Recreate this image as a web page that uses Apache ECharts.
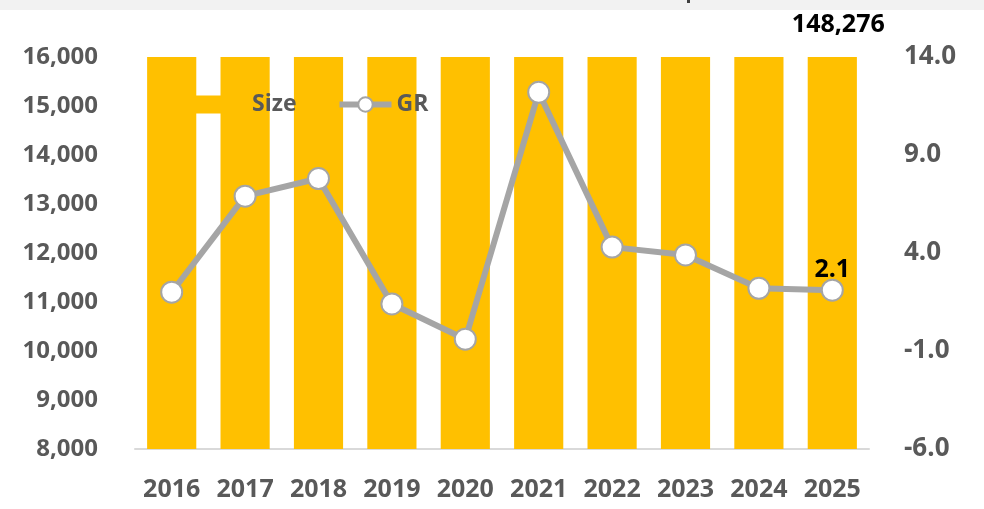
<!DOCTYPE html>
<html>
<head>
<meta charset="utf-8">
<script src="https://cdn.jsdelivr.net/npm/echarts@6/dist/echarts.min.js"></script>
<style>
html, body { margin: 0; padding: 0; background: #fff; }
#main { width: 984px; height: 509px; }
</style>
</head>
<body>
<div id="main"></div>
<script>
var years = ['2016', '2017', '2018', '2019', '2020', '2021', '2022', '2023', '2024', '2025'];
// 规模（柱子都超出了16,000的轴上限，只有2025年标了数值）
var sizeValues = [100417, 107345, 115718, 117338, 116869, 131127, 136766, 142100, 145226, 148276];
// 增长率
var grValues = [2.0, 6.9, 7.8, 1.4, -0.4, 12.2, 4.3, 3.9, 2.2, 2.1];
var leftTicks = [8000, 16000, 1000];
var rightTicks = [-6, 14, 5];

var fontName = '"Open Sans", "Noto Sans", sans-serif';
var lastIdx = years.length - 1;

var myChart = echarts.init(document.getElementById('main'));

var barData = sizeValues.map(function (v, i) {
	if (i !== lastIdx) return v;
	return {
		value: v,
		label: {
			show: true,
			position: 'top',
			distance: 12,
			offset: [6, -8],
			formatter: function (p) { return p.value.toLocaleString('en-US'); },
			color: '#000',
			fontSize: 25,
			fontWeight: 'bold',
			fontFamily: fontName
		}
	};
});

var lineData = grValues.map(function (v, i) {
	if (i !== lastIdx) return v;
	return {
		value: v,
		label: {
			show: true,
			position: 'top',
			distance: 0,
			offset: [0, 4],
			formatter: function (p) { return p.value.toFixed(1); },
			color: '#000',
			fontSize: 25,
			fontWeight: 'bold',
			fontFamily: fontName
		}
	};
});

var option = {
	animation: false,
	backgroundColor: '#fff',
	graphic: [
		{
			type: 'rect',
			left: 0, top: 0,
			shape: { width: 984, height: 10 },
			style: { fill: '#F2F2F2' }
		},
		{
			type: 'rect',
			left: 687, top: 0,
			shape: { width: 3, height: 3 },
			style: { fill: '#404040' }
		}
	],
	grid: {
		left: 135,
		right: 115,
		top: 57,
		bottom: 60
	},
	legend: {
		left: 190,
		top: 88,
		itemGap: 40,
		itemWidth: 52,
		itemHeight: 18,
		textStyle: {
			color: '#595959',
			fontSize: 23,
			fontWeight: 'bold',
			fontFamily: fontName
		},
		data: [
			{ name: 'Size', icon: 'rect', itemStyle: { color: '#FFC000' } },
			{
				name: 'GR',
				itemStyle: { color: '#fff', borderColor: '#A5A5A5', borderWidth: 2 },
				lineStyle: { color: '#A5A5A5', width: 6 }
			}
		]
	},
	xAxis: {
		type: 'category',
		data: years,
		axisTick: { show: false },
		axisLine: { onZero: false, lineStyle: { color: '#D9D9D9', width: 2 } },
		axisLabel: {
			interval: 0,
			color: '#595959',
			fontSize: 25,
			fontWeight: 'bold',
			fontFamily: fontName,
			margin: 28
		}
	},
	yAxis: [
		{
			type: 'value',
			min: leftTicks[0],
			max: leftTicks[1],
			interval: leftTicks[2],
			splitLine: { show: false },
			axisLine: { show: false },
			axisTick: { show: false },
			axisLabel: {
				color: '#595959',
				fontSize: 24,
				fontWeight: 'bold',
				fontFamily: fontName,
				margin: 37,
				formatter: function (v) { return v.toLocaleString('en-US'); }
			}
		},
		{
			type: 'value',
			min: rightTicks[0],
			max: rightTicks[1],
			interval: rightTicks[2],
			splitLine: { show: false },
			axisLine: { show: false },
			axisTick: { show: false },
			axisLabel: {
				color: '#595959',
				fontSize: 26,
				fontWeight: 'bold',
				fontFamily: fontName,
				margin: 35,
				align: 'left',
				formatter: function (v) { return v.toFixed(1); }
			}
		}
	],
	series: [
		{
			name: 'Size',
			type: 'bar',
			yAxisIndex: 0,
			barWidth: '67%',
			clip: true,
			itemStyle: { color: '#FFC000' },
			data: barData
		},
		{
			name: 'GR',
			type: 'line',
			yAxisIndex: 1,
			symbol: 'circle',
			symbolSize: 21,
			lineStyle: { color: '#A5A5A5', width: 6 },
			itemStyle: { color: '#fff', borderColor: '#A5A5A5', borderWidth: 2 },
			z: 3,
			data: lineData
		}
	]
};
myChart.setOption(option);
window.addEventListener('resize', function () {
	myChart.resize();
});
</script>
</body>
</html>
